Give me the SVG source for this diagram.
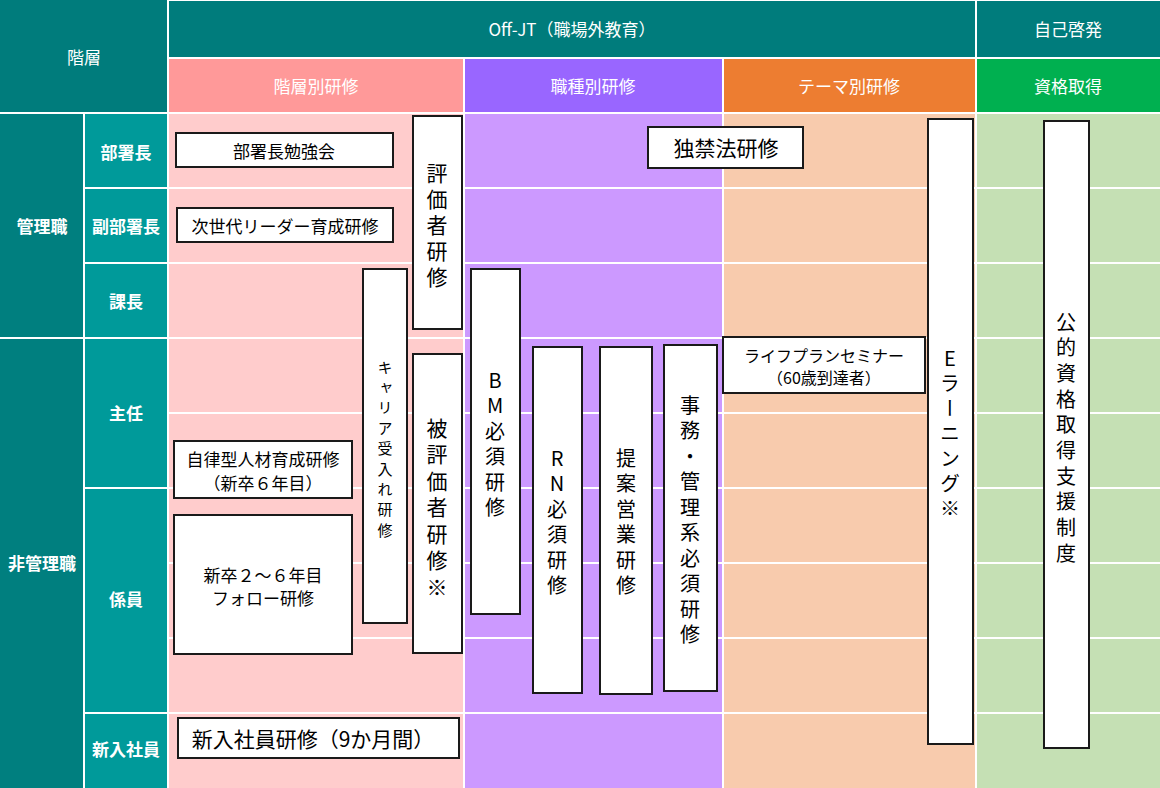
<svg xmlns="http://www.w3.org/2000/svg" width="1160" height="788" viewBox="0 0 1160 788">
<style>
text{font-family:"Noto Sans CJK JP","Noto Sans",sans-serif;}
.hd{fill:#fff;font-size:17px;text-anchor:middle;dominant-baseline:central;}
.lv{fill:#fff;font-size:17px;font-weight:bold;text-anchor:middle;dominant-baseline:central;}
.box{fill:#fff;stroke:#1a1a1a;stroke-width:2;}
.bt{fill:#000;text-anchor:middle;dominant-baseline:central;}
.vt{fill:#000;writing-mode:vertical-rl;text-orientation:upright;}
.wl{stroke:#fff;stroke-width:2;}
</style>
<rect width="1160" height="788" fill="#fff"/>
<g id="header">
<rect x="0" y="0" width="167" height="112" fill="#007c7c"/>
<rect x="169" y="1" width="806" height="56" fill="#007c7c"/>
<rect x="977" y="1" width="183" height="56" fill="#007c7c"/>
<rect x="169" y="59" width="294" height="53" fill="#ff9999"/>
<rect x="465" y="59" width="257" height="53" fill="#9966ff"/>
<rect x="724" y="59" width="251" height="53" fill="#ed7d31"/>
<rect x="977" y="59" width="183" height="53" fill="#00b050"/>
<text class="hd" x="84" y="56">階層</text>
<text class="hd" x="572" y="28">Off-JT（職場外教育）</text>
<text class="hd" x="1068" y="28">自己啓発</text>
<text class="hd" x="316" y="85">階層別研修</text>
<text class="hd" x="593" y="85">職種別研修</text>
<text class="hd" x="849" y="85">テーマ別研修</text>
<text class="hd" x="1068" y="85">資格取得</text>
</g>
<g id="body-bg">
<rect x="0" y="114" width="83" height="674" fill="#007f7f"/>
<rect x="85" y="114" width="82" height="674" fill="#009a9a"/>
<rect x="169" y="114" width="294" height="674" fill="#ffcccc"/>
<rect x="465" y="114" width="257" height="674" fill="#cc99ff"/>
<rect x="724" y="114" width="251" height="674" fill="#f8cbad"/>
<rect x="977" y="114" width="183" height="674" fill="#c5e0b4"/>
<g class="wl">
<line x1="0" y1="338" x2="84" y2="338"/>
<line x1="84" y1="188" x2="168" y2="188"/>
<line x1="84" y1="263" x2="168" y2="263"/>
<line x1="84" y1="338" x2="168" y2="338"/>
<line x1="84" y1="488" x2="168" y2="488"/>
<line x1="84" y1="713" x2="168" y2="713"/>
<line x1="168" y1="188" x2="1160" y2="188"/>
<line x1="168" y1="263" x2="1160" y2="263"/>
<line x1="168" y1="338" x2="1160" y2="338"/>
<line x1="168" y1="413" x2="1160" y2="413"/>
<line x1="168" y1="488" x2="1160" y2="488"/>
<line x1="168" y1="563" x2="1160" y2="563"/>
<line x1="168" y1="638" x2="1160" y2="638"/>
<line x1="168" y1="713" x2="1160" y2="713"/>
</g>
</g>
<g id="levels">
<text class="lv" x="42" y="225">管理職</text>
<text class="lv" x="42" y="562">非管理職</text>
<text class="lv" x="126" y="151">部署長</text>
<text class="lv" x="126" y="225">副部署長</text>
<text class="lv" x="126" y="300">課長</text>
<text class="lv" x="126" y="412">主任</text>
<text class="lv" x="126" y="598">係員</text>
<text class="lv" x="126" y="748">新入社員</text>
</g>
<g id="n-bushocho"><rect class="box" x="176" y="133" width="217" height="34"/><text class="bt" x="284" y="150" font-size="17">部署長勉強会</text></g>
<g id="n-jisedai"><rect class="box" x="177" y="208" width="216" height="34"/><text class="bt" x="285" y="225" font-size="17">次世代リーダー育成研修</text></g>
<g id="n-hyokasha"><rect class="box" x="413" y="116" width="49" height="213"/><text class="vt" x="437" y="162.5" font-size="21" letter-spacing="5">評価者研修</text></g>
<g id="n-career"><rect class="box" x="363" y="269" width="44" height="354"/><text class="vt" x="385" y="359.5" font-size="15" letter-spacing="5.4">キャリア受入れ研修</text></g>
<g id="n-hihyoka"><rect class="box" x="413" y="354" width="49" height="299"/><text class="vt" x="437" y="417.5" font-size="21" letter-spacing="5.5">被評価者研修※</text></g>
<g id="n-jiritsu"><rect class="box" x="174" y="441" width="178" height="57"/><text class="bt" x="263" y="458" font-size="17">自律型人材育成研修</text><text class="bt" x="263" y="482" font-size="17">（新卒６年目）</text></g>
<g id="n-follow"><rect class="box" x="174" y="515" width="178" height="139"/><text class="bt" x="263" y="574" font-size="17">新卒２～６年目</text><text class="bt" x="263" y="597" font-size="17">フォロー研修</text></g>
<g id="n-shinnyu"><rect class="box" x="178" y="718" width="281" height="40"/><text class="bt" x="313" y="738" font-size="21">新入社員研修（9か月間）</text></g>
<g id="n-dokkin"><rect class="box" x="648" y="127" width="155" height="41"/><text class="bt" x="726" y="147" font-size="21">独禁法研修</text></g>
<g id="n-bm"><rect class="box" x="471" y="269" width="49" height="345"/><text class="vt" x="495" y="370" font-size="20" letter-spacing="5.5">BM必須研修</text></g>
<g id="n-rn"><rect class="box" x="533" y="347" width="49" height="346"/><text class="vt" x="557" y="448" font-size="20" letter-spacing="5.5">RN必須研修</text></g>
<g id="n-teian"><rect class="box" x="600" y="347" width="52" height="347"/><text class="vt" x="626" y="448" font-size="20" letter-spacing="5.5">提案営業研修</text></g>
<g id="n-jimu"><rect class="box" x="664" y="345" width="53" height="346"/><text class="vt" x="690" y="395" font-size="20" letter-spacing="5.5">事務・管理系必須研修</text></g>
<g id="n-lifeplan"><rect class="box" x="723" y="337" width="202" height="56"/><text class="bt" x="824" y="355" font-size="16">ライフプランセミナー</text><text class="bt" x="824" y="377" font-size="16">（60歳到達者）</text></g>
<g id="n-elearning"><rect class="box" x="928" y="119" width="45" height="625"/><text class="vt" x="950" y="348" font-size="20" letter-spacing="5">Eラーニング※</text></g>
<g id="n-shikaku"><rect class="box" x="1044" y="121" width="45" height="627"/><text class="vt" x="1066" y="312" font-size="20" letter-spacing="5.7">公的資格取得支援制度</text></g>
</svg>
